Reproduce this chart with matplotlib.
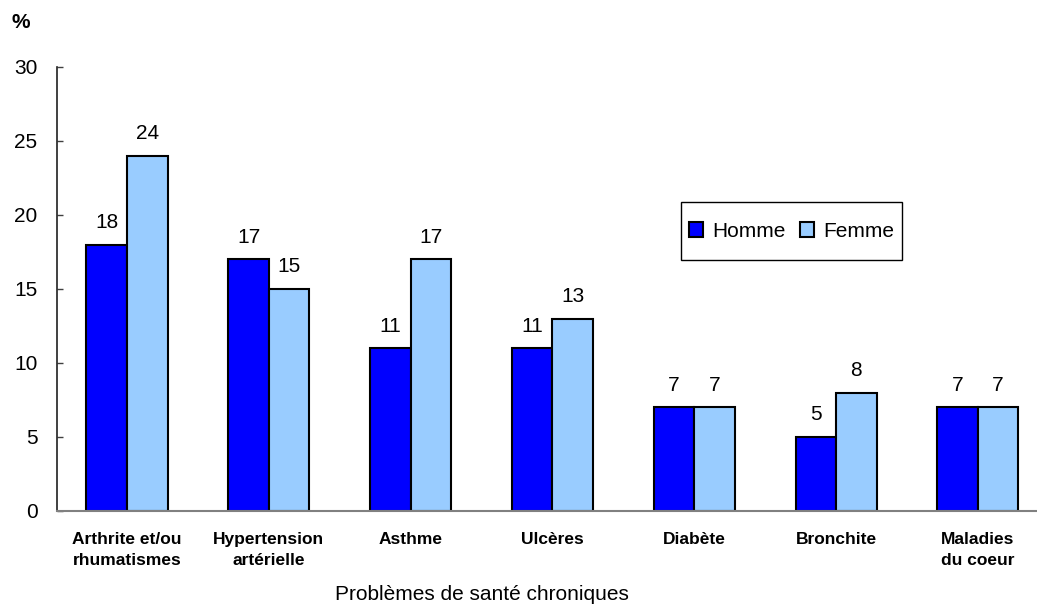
import numpy as np
import matplotlib.pyplot as plt
from matplotlib.patches import Rectangle

plt.rcParams['font.family'] = ['Liberation Sans', 'DejaVu Sans']

categories = ["Arthrite et/ou\nrhumatismes", "Hypertension\nartérielle", "Asthme",
              "Ulcères", "Diabète", "Bronchite", "Maladies\ndu coeur"]
homme = [18, 17, 11, 11, 7, 5, 7]
femme = [24, 15, 17, 13, 7, 8, 7]
series_names = ["Homme", "Femme"]
colors = ["#0000FF", "#99CCFF"]

fig = plt.figure(figsize=(10.37, 6.06), dpi=100)
ax = fig.add_axes([57 / 1037, 95 / 606, 980 / 1037, 444 / 606])

x = np.arange(len(categories))
w = 0.286
b1 = ax.bar(x - w / 2, homme, w, color=colors[0], edgecolor="black", linewidth=1.5,
            label=series_names[0])
b2 = ax.bar(x + w / 2, femme, w, color=colors[1], edgecolor="black", linewidth=1.5,
            label=series_names[1])

for bars, vals in ((b1, homme), (b2, femme)):
    for rect, v in zip(bars, vals):
        ax.annotate(str(v), (rect.get_x() + rect.get_width() / 2, v),
                    xytext=(0, 9), textcoords="offset points",
                    ha="center", va="bottom", fontsize=15)

ax.set_xlim(-0.494, 6.417)
ax.set_ylim(0, 30)
ax.set_yticks(range(0, 31, 5))
ax.tick_params(axis="y", direction="in", length=4.5, width=1, colors="#404040",
               labelcolor="black", labelsize=15, pad=14)
ax.set_xticks(x)
ax.set_xticklabels(categories, fontsize=12.5, fontweight="bold", linespacing=1.55)
ax.tick_params(axis="x", length=0, pad=15)

for side in ("top", "right"):
    ax.spines[side].set_visible(False)
ax.spines["left"].set_color("#202020")
ax.spines["left"].set_linewidth(1.2)
ax.spines["bottom"].set_color("#808080")
ax.spines["bottom"].set_linewidth(1.5)

# legend box drawn separately to get the wider vertical padding
ax.add_patch(Rectangle((0.637, 0.565), 0.225, 0.131, transform=ax.transAxes,
                       facecolor="white", edgecolor="black", linewidth=1, zorder=3))
leg = ax.legend(loc="center", bbox_to_anchor=(0.7495, 0.630), ncol=2, frameon=False,
                fontsize=15, handlelength=0.67, handleheight=0.67,
                handletextpad=0.45, columnspacing=0.7, borderpad=0)
leg.set_zorder(4)

fig.text(482 / 1037, 1 - 595 / 606, "Problèmes de santé chroniques",
         ha="center", va="center", fontsize=15)
fig.text(12 / 1037, 1 - 22 / 606, "%", ha="left", va="center",
         fontsize=15, fontweight="bold")

fig.savefig("out.png", dpi=100)
